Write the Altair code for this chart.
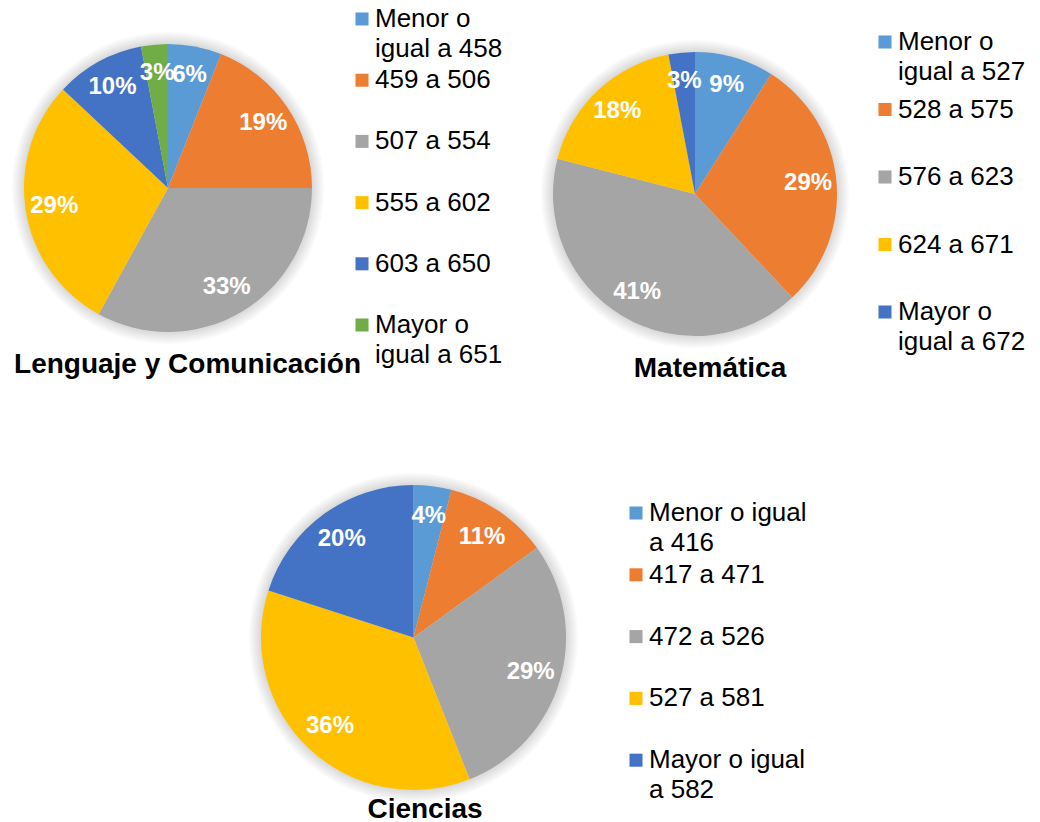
import altair as alt
import pandas as pd

# ---------------- data ----------------
leng_labels = ["Menor o\nigual a 458", "459 a 506", "507 a 554", "555 a 602",
               "603 a 650", "Mayor o\nigual a 651"]
leng_values = [6, 19, 33, 29, 10, 3]

mat_labels = ["Menor o\nigual a 527", "528 a 575", "576 a 623", "624 a 671",
              "Mayor o\nigual a 672"]
mat_values = [9, 29, 41, 18, 3]

cien_labels = ["Menor o igual\na 416", "417 a 471", "472 a 526", "527 a 581",
               "Mayor o igual\na 582"]
cien_values = [4, 11, 29, 36, 20]

titles = ["Lenguaje y Comunicación", "Matemática", "Ciencias"]

colors = ["#5B9BD5", "#ED7D31", "#A5A5A5", "#FFC000", "#4472C4", "#70AD47"]

FONT = "Liberation Sans"
M = 8  # page margin

# layout (page pixel coordinates)
layouts = [
    dict(cx=168, cy=188, r=144, lx=362, ly0=19, lstep=61.2, tx=187.5, ty=373),
    dict(cx=695, cy=194, r=142, lx=885, ly0=42, lstep=67.5, tx=710, ty=377),
    dict(cx=413.5, cy=637.5, r=152.5, lx=636, ly0=513, lstep=61.8, tx=425, ty=818),
]

series = [(leng_labels, leng_values), (mat_labels, mat_values), (cien_labels, cien_values)]

layers = []
for (labels, values), title, L in zip(series, titles, layouts):
    df = pd.DataFrame({"idx": list(range(len(labels))), "label": labels, "value": values})
    base = alt.Chart(df).transform_calculate(pct="datum.value + '%'")
    cx, cy, r = L["cx"] - M, L["cy"] - M, L["r"]
    cscale = alt.Scale(domain=labels, range=colors[:len(labels)])

    # soft shadow
    one = alt.Chart(pd.DataFrame({"k": [0]}))
    for k in range(1, 7):
        layers.append(
            one.mark_arc(theta=0, theta2=6.2832, outerRadius=r + 2 * k,
                         color="#000000", opacity=0.022)
            .encode(x=alt.value(cx), y=alt.value(cy))
        )

    theta = alt.Theta("value:Q", stack=True)
    order = alt.Order("idx:Q")
    layers.append(
        base.mark_arc(outerRadius=r).encode(
            theta=theta, order=order,
            color=alt.Color("label:N", scale=cscale, legend=None),
            x=alt.value(cx), y=alt.value(cy),
        )
    )
    layers.append(
        base.mark_text(radius=0.8 * r, font=FONT, fontSize=24, fontWeight="bold",
                       color="white", align="center", baseline="middle").encode(
            theta=theta, order=order, text="pct:N",
            x=alt.value(cx), y=alt.value(cy),
        )
    )
    # legend
    leg = base.transform_calculate(
        sy=f"{L['ly0'] - M} + datum.idx * {L['lstep']}",
        ty=f"{L['ly0'] - M + 8} + datum.idx * {L['lstep']}",
    )
    layers.append(
        leg.mark_square(size=170, filled=True, opacity=1).encode(
            x=alt.value(L["lx"] - M),
            y=alt.Y("sy:Q", scale=None, axis=None),
            color=alt.Color("label:N", scale=cscale, legend=None),
        )
    )
    layers.append(
        leg.mark_text(align="left", baseline="alphabetic", lineBreak="\n", lineHeight=30,
                      font=FONT, fontSize=26, color="#000000").encode(
            x=alt.value(L["lx"] - M + 13),
            y=alt.Y("ty:Q", scale=None, axis=None),
            text="label:N",
        )
    )
    # title
    layers.append(
        alt.Chart(pd.DataFrame({"t": [title]})).mark_text(
            align="center", baseline="alphabetic", font=FONT, fontSize=28,
            fontWeight="bold", color="#000000").encode(
            x=alt.value(L["tx"] - M), y=alt.value(L["ty"] - M), text="t:N")
    )

chart = (
    alt.layer(*layers)
    .resolve_scale(theta="independent", color="independent")
    .properties(width=1024, height=814, autosize=alt.AutoSizeParams(type="none"), padding=0)
    .configure_view(stroke=None)
)

chart.save("out.html", embed_options={"renderer": "svg", "actions": False})
